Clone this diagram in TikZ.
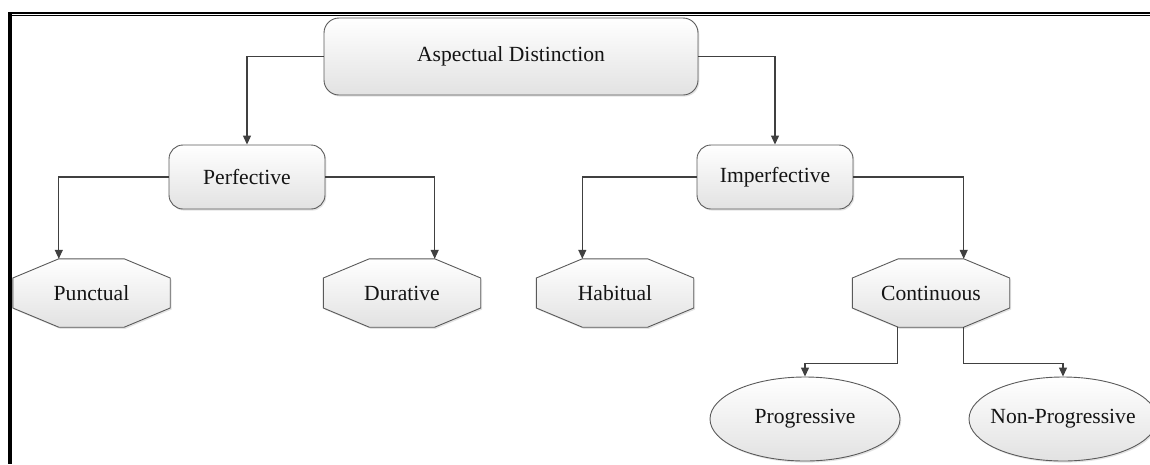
\documentclass[tikz,border=0pt]{standalone}
\usepackage{fontspec}
\setmainfont{Liberation Serif}
\usetikzlibrary{arrows.meta,shapes.geometric,shadows,backgrounds,calc}

\definecolor{edgegray}{HTML}{5A5A5A}
\definecolor{linegray}{HTML}{404040}
\definecolor{fillbottom}{HTML}{E2E2E2}

\tikzset{
  every node/.style={font=\fontsize{21.6}{26}\selectfont, text=black!92},
  boxshade/.style={top color=white, bottom color=fillbottom, draw=edgegray,
    line width=0.9pt,
    drop shadow={shadow xshift=1.3pt, shadow yshift=-1.6pt, opacity=0.22}},
  roundbox/.style={boxshade, rectangle, rounded corners=15pt, inner sep=0pt},
  octslot/.style={rectangle, inner sep=0pt, minimum width=157pt, minimum height=68pt},
  ovalbox/.style={boxshade, ellipse, inner ysep=0pt, inner xsep=-30pt,
    minimum width=190pt, minimum height=84pt},
  conn/.style={draw=linegray, line width=1.2pt, -{Triangle[length=9pt,width=8pt]}},
}

% octagon outline around a rectangular slot node (cut 46 x 19)
\newcommand\octagonpath[1]{($(#1.north west)+(46,0)$) -- ($(#1.north east)+(-46,0)$)
  -- ($(#1.east)+(0,-15)$) -- ($(#1.east)+(0,15)$)
  -- ($(#1.south east)+(-46,0)$) -- ($(#1.south west)+(46,0)$)
  -- ($(#1.west)+(0,15)$) -- ($(#1.west)+(0,-15)$) -- cycle}

\begin{document}
\begin{tikzpicture}[x=1pt,y=-1pt]
  \useasboundingbox (0,0) rectangle (1150,464);

  % page frame: double rule on top, heavy rule on the left
  \draw[line width=2pt] (8,13) -- (1150,13);
  \draw[line width=1.2pt] (12,15.6) -- (1150,15.6);
  \fill (8,12) rectangle (12,464);

  % top level
  \node[roundbox, minimum width=374pt, minimum height=77pt] (asp) at (511,56.5) {Aspectual Distinction};

  % second level
  \node[roundbox, rounded corners=14pt, minimum width=156pt, minimum height=64pt] (perf) at (247,177) {Perfective};
  \node[roundbox, rounded corners=14pt, minimum width=156pt, minimum height=64pt] (imperf) at (775,177) {Imperfective};

  % third level (octagons)
  \node[octslot] (punct) at (91.5,293) {Punctual};
  \node[octslot] (dur) at (402,293) {Durative};
  \node[octslot] (hab) at (615,293) {Habitual};
  \node[octslot] (cont) at (931,293) {Continuous};

  \begin{pgfonlayer}{background}
    \foreach \n in {punct,dur,hab,cont} {
      \path[boxshade] \octagonpath{\n};
    }
  \end{pgfonlayer}

  % fourth level
  \node[ovalbox] (prog) at (805,419) {Progressive};
  \node[ovalbox, minimum width=188pt] (nonprog) at (1063,419) {Non-Progressive};

  % connectors
  \draw[conn] (asp.west) -| (perf.north);
  \draw[conn] (asp.east) -| (imperf.north);
  \draw[conn] (perf.west) -| ($(punct.north west)+(46,0)$);
  \draw[conn] (perf.east) -| ($(dur.north east)+(-46,0)$);
  \draw[conn] (imperf.west) -| ($(hab.north west)+(46,0)$);
  \draw[conn] (imperf.east) -| ($(cont.north east)+(-46,0)$);
  \draw[conn] ($(cont.south west)+(45,0)$) -- ++(0,36) -| (prog.north);
  \draw[conn] ($(cont.south east)+(-46,0)$) -- ++(0,36) -| (nonprog.north);
\end{tikzpicture}
\end{document}
